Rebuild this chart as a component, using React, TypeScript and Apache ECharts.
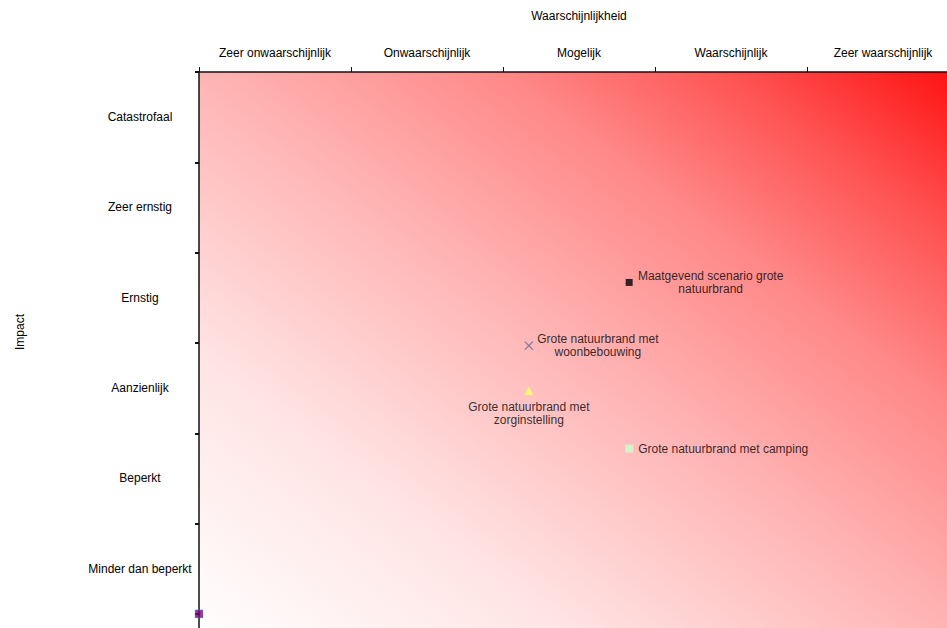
import React, { useEffect, useRef } from "react";
import * as echarts from "echarts";

const likelihoodLabels = [
  "Zeer onwaarschijnlijk",
  "Onwaarschijnlijk",
  "Mogelijk",
  "Waarschijnlijk",
  "Zeer waarschijnlijk",
];
const impactLabels = [
  "Minder dan beperkt",
  "Beperkt",
  "Aanzienlijk",
  "Ernstig",
  "Zeer ernstig",
  "Catastrofaal",
];
const xTickValues = [0, 1, 2, 3, 4, 5];
const yTickValues = [0, 1, 2, 3, 4, 5, 6];
const xLabelValues = [0.5, 1.5, 2.5, 3.5, 4.5];
const yLabelValues = [0.5, 1.5, 2.5, 3.5, 4.5, 5.5];

const scenarioNames = [
  "Maatgevend scenario grote natuurbrand",
  "Grote natuurbrand met woonbebouwing",
  "Grote natuurbrand met zorginstelling",
  "Grote natuurbrand met camping",
];
const scenarioLabelLines = [
  ["Maatgevend scenario grote", "natuurbrand"],
  ["Grote natuurbrand met", "woonbebouwing"],
  ["Grote natuurbrand met", "zorginstelling"],
  ["Grote natuurbrand met camping"],
];
const likelihoodScores = [2.83, 2.17, 2.17, 2.83];
const impactScores = [3.67, 2.97, 2.47, 1.83];
const originPoint = [0, 0];

const FONT = "'Liberation Sans', Arial, sans-serif";

export default function App() {
  const ref = useRef<HTMLDivElement>(null);
  useEffect(() => {
    if (!ref.current) return;
    const chart = echarts.init(ref.current, undefined, { renderer: "svg" });

    const richLabel = (lines: string[]) =>
      lines.map((l) => `{c|${l}}`).join("\n");

    const symbols = [
      "rect",
      "path://M0,0L10,10M10,0L0,10",
      "triangle",
      "rect",
    ];
    const colors = ["#000000", "none", "#ffff66", "#ccffcc"];
    const sizes = [7, 8, 9, 8];
    const labelPos = ["right", "right", "bottom", "right"];
    const labelDist = [5, 1, 5, 5];
    const labelWidths = [146, 123, 0, 0];

    const series: any[] = scenarioNames.map((name, i) => {
      const useRich = labelWidths[i] > 0;
      return {
        type: "scatter",
        name,
        symbol: symbols[i],
        symbolSize: sizes[i],
        itemStyle:
          i === 1
            ? { color: "none", borderColor: "#5a6a9c", borderWidth: 1.3 }
            : { color: colors[i] },
        label: {
          show: true,
          position: labelPos[i],
          distance: labelDist[i],
          color: "#000",
          fontFamily: FONT,
          fontSize: 12,
          lineHeight: 13,
          formatter: useRich
            ? richLabel(scenarioLabelLines[i])
            : scenarioLabelLines[i].join("\n"),
          rich: useRich
            ? {
                c: {
                  width: labelWidths[i],
                  align: "center",
                  color: "#000",
                  fontFamily: FONT,
                  fontSize: 12,
                  lineHeight: 13,
                },
              }
            : undefined,
        },
        data: [[likelihoodScores[i], impactScores[i]]],
        z: 3,
      };
    });
    series.push({
      type: "scatter",
      name: "Oorsprong",
      symbol: "rect",
      symbolSize: 8,
      itemStyle: { color: "#800080", borderColor: "#40c0b0", borderWidth: 0.5 },
      data: [originPoint],
      z: 4,
    });

    chart.setOption({
      animation: false,
      textStyle: { fontFamily: FONT },
      grid: {
        left: 199,
        top: 72,
        right: 1,
        bottom: 0,
        show: true,
        borderWidth: 0,
        backgroundColor: new echarts.graphic.LinearGradient(0, 1, 1, 0, [
          { offset: 0, color: "#ffffff" },
          { offset: 0.25, color: "#ffe4e4" },
          { offset: 0.5, color: "#ffb4b4" },
          { offset: 0.7, color: "#ff8888" },
          { offset: 0.85, color: "#ff5252" },
          { offset: 1, color: "#ff1010" },
        ]),
      },
      graphic: [
        {
          type: "text",
          x: 20,
          y: 332,
          rotation: Math.PI / 2,
          style: {
            text: "Impact",
            fontFamily: FONT,
            fontSize: 12,
            fill: "#000",
            align: "center",
            verticalAlign: "middle",
          },
        },
      ],
      xAxis: {
        type: "value",
        position: "top",
        min: 0,
        max: 5,
        name: "Waarschijnlijkheid",
        nameLocation: "middle",
        nameGap: 50,
        nameTextStyle: { color: "#000", fontSize: 12, fontFamily: FONT },
        axisLine: {
          show: true,
          onZero: false,
          lineStyle: { color: "#111", width: 1.5 },
        },
        axisTick: {
          show: true,
          customValues: xTickValues,
          length: 5,
          lineStyle: { color: "#111", width: 1 },
        },
        axisLabel: {
          customValues: xLabelValues,
          formatter: (v: number) => likelihoodLabels[Math.floor(v)] ?? "",
          margin: 13,
          color: "#000",
          fontSize: 12,
          fontFamily: FONT,
        },
        splitLine: { show: false },
      },
      yAxis: {
        type: "value",
        min: -0.3,
        max: 6,
        axisLine: {
          show: true,
          onZero: false,
          lineStyle: { color: "#111", width: 1.5 },
        },
        axisTick: {
          show: true,
          customValues: yTickValues,
          length: 4,
          lineStyle: { color: "#111", width: 2 },
        },
        axisLabel: {
          customValues: yLabelValues,
          formatter: (v: number) => impactLabels[Math.floor(v)] ?? "",
          align: "center",
          margin: 59,
          color: "#000",
          fontSize: 12,
          fontFamily: FONT,
        },
        splitLine: { show: false },
      },
      series,
    });
    return () => chart.dispose();
  }, []);

  return (
    <div
      ref={ref}
      style={{
        position: "fixed",
        left: 0,
        top: 0,
        width: 960,
        height: 641,
        background: "#fff",
      }}
    />
  );
}
